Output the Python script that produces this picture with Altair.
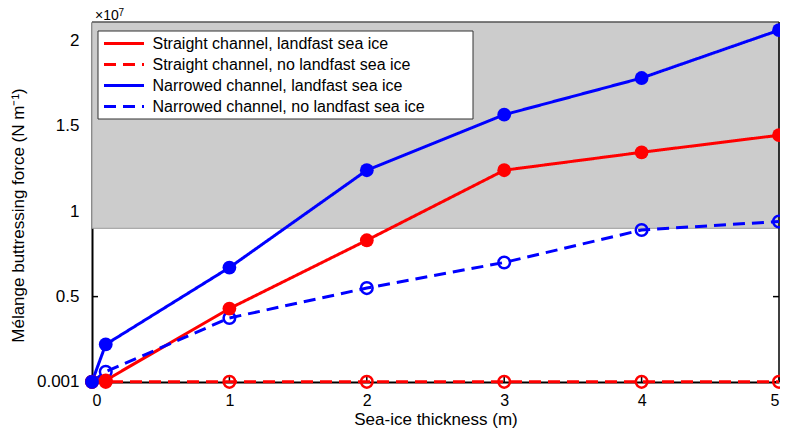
import altair as alt
import pandas as pd

thickness = [0, 0.1, 1, 2, 3, 4, 5]
straight_landfast = [0.001, 0.01, 0.43, 0.83, 1.24, 1.345, 1.445]
straight_nolandfast = [0.001, 0.001, 0.001, 0.001, 0.001, 0.001, 0.001]
narrowed_landfast = [0.001, 0.22, 0.67, 1.24, 1.565, 1.78, 2.06]
narrowed_nolandfast = [0.001, 0.06, 0.375, 0.55, 0.70, 0.89, 0.94]

series_names = [
    "Straight channel, landfast sea ice",
    "Straight channel, no landfast sea ice",
    "Narrowed channel, landfast sea ice",
    "Narrowed channel, no landfast sea ice",
]
series_values = [straight_landfast, straight_nolandfast, narrowed_landfast, narrowed_nolandfast]
series_filled = [True, False, True, False]
series_colors = ["#FF0000", "#FF0000", "#0000FF", "#0000FF"]
series_dash = [[1, 0], [12, 7], [1, 0], [12, 7]]

x_ticks = [0, 1, 2, 3, 4, 5]
y_ticks = [0.001, 0.5, 1, 1.5, 2]
y_top = 2.108
shade_range = [0.9, y_top]

rows = []
for order, (name, vals, filled) in enumerate(zip(series_names, series_values, series_filled)):
    for xv, yv in zip(thickness, vals):
        rows.append({"series": name, "order": order, "x": xv, "y": yv, "filled": filled})
df = pd.DataFrame(rows)

W, H = 687, 360
xs = alt.Scale(domain=[0, 5], nice=False, zero=False)
ys = alt.Scale(domain=[0, y_top], nice=False, zero=False)

shade = alt.Chart(pd.DataFrame({"x0": [0], "x1": [5], "y0": [shade_range[0]], "y1": [shade_range[1]]})).mark_rect(
    fill="#CCCCCC", stroke="#999999", strokeWidth=1
).encode(
    x=alt.X("x0:Q", scale=xs), x2="x1:Q",
    y=alt.Y("y0:Q", scale=ys), y2="y1:Q",
)

right_axis = alt.Chart(pd.DataFrame({"x": [5], "y0": [0], "y1": [y_top]})).mark_rule(
    color="black", strokeWidth=1.5
).encode(x=alt.X("x:Q", scale=xs), y=alt.Y("y0:Q", scale=ys), y2="y1:Q")

top_edge = alt.Chart(pd.DataFrame({"x0": [0], "x1": [5], "y": [y_top]})).mark_rule(
    color="#333333", strokeWidth=1
).encode(x=alt.X("x0:Q", scale=xs), x2="x1:Q", y=alt.Y("y:Q", scale=ys))

xtick_marks = alt.Chart(pd.DataFrame({"t": x_ticks})).mark_rule(color="black", strokeWidth=1.5).encode(
    x=alt.X("t:Q", scale=xs), y=alt.value(H), y2=alt.value(H - 6)
)
ytick_left = alt.Chart(pd.DataFrame({"t": y_ticks})).mark_rule(color="black", strokeWidth=1.5).encode(
    y=alt.Y("t:Q", scale=ys), x=alt.value(0), x2=alt.value(6)
)
ytick_right = alt.Chart(pd.DataFrame({"t": y_ticks})).mark_rule(color="black", strokeWidth=1.5).encode(
    y=alt.Y("t:Q", scale=ys), x=alt.value(W), x2=alt.value(W - 6)
)

# legend frame (white box behind the legend entries)
legend_box = alt.Chart(pd.DataFrame({"k": [0]})).mark_rect(
    fill="white", stroke="#333333", strokeWidth=1
).encode(x=alt.value(6), x2=alt.value(381), y=alt.value(9), y2=alt.value(97))

color_scale = alt.Scale(domain=series_names, range=series_colors)
dash_scale = alt.Scale(domain=series_names, range=series_dash)
leg = alt.Legend(
    title=None, orient="none", legendX=6, legendY=9,
    symbolType="stroke", symbolSize=1600, symbolStrokeWidth=3, clipHeight=16,
    labelFontSize=16, labelFont="Liberation Sans", labelColor="black", labelLimit=600,
    labelOffset=7, rowPadding=5, padding=4.5,
)

base = alt.Chart(df).encode(
    x=alt.X("x:Q", scale=xs, title="Sea-ice thickness (m)",
            axis=alt.Axis(values=x_ticks, format="d")),
    y=alt.Y("y:Q", scale=ys, title="Mélange buttressing force (N m⁻¹)",
            axis=alt.Axis(values=y_ticks, titleY=193,
                          labelExpr="datum.value < 0.01 ? '0.001' : format(datum.value, '~g')")),
)

lines = base.mark_line(strokeWidth=3).encode(
    color=alt.Color("series:N", scale=color_scale, legend=leg, sort=series_names),
    strokeDash=alt.StrokeDash("series:N", scale=dash_scale, legend=leg, sort=series_names),
    detail="order:Q",
)

filled_pts = base.transform_filter("datum.filled").mark_point(
    shape="circle", filled=True, size=190, opacity=1
).encode(color=alt.Color("series:N", scale=color_scale, legend=None))

open_pts = base.transform_filter("!datum.filled").mark_point(
    shape="circle", filled=False, size=135, strokeWidth=2.5, opacity=1
).encode(color=alt.Color("series:N", scale=color_scale, legend=None))

exp_base = alt.Chart(pd.DataFrame({"t": ["×10"]})).mark_text(
    align="left", baseline="alphabetic", fontSize=14, font="Liberation Sans", color="black"
).encode(text="t:N", x=alt.value(3), y=alt.value(-2))
exp_sup = alt.Chart(pd.DataFrame({"t": ["7"]})).mark_text(
    align="left", baseline="alphabetic", fontSize=10, font="Liberation Sans", color="black"
).encode(text="t:N", x=alt.value(26.5), y=alt.value(-6))

chart = alt.layer(
    xtick_marks, ytick_left, ytick_right, shade, right_axis, top_edge, legend_box,
    lines, open_pts, filled_pts, exp_base, exp_sup
).properties(
    width=W, height=H,
    autosize=alt.AutoSizeParams(type="none"),
    padding={"left": 84, "top": 14, "right": 1, "bottom": 48},
).configure_view(stroke=None).configure_axis(
    grid=False, ticks=False, domainColor="black", domainWidth=2,
    labelFont="Liberation Sans", labelColor="black",
    titleFontSize=17, titleFont="Liberation Sans", titleColor="black", titleFontWeight="normal",
).configure_axisX(labelFontSize=16, labelPadding=10, titlePadding=3).configure_axisY(
    labelFontSize=17, labelPadding=13, titlePadding=9)

chart.save("out.html", embed_options={"renderer": "svg", "actions": False})
